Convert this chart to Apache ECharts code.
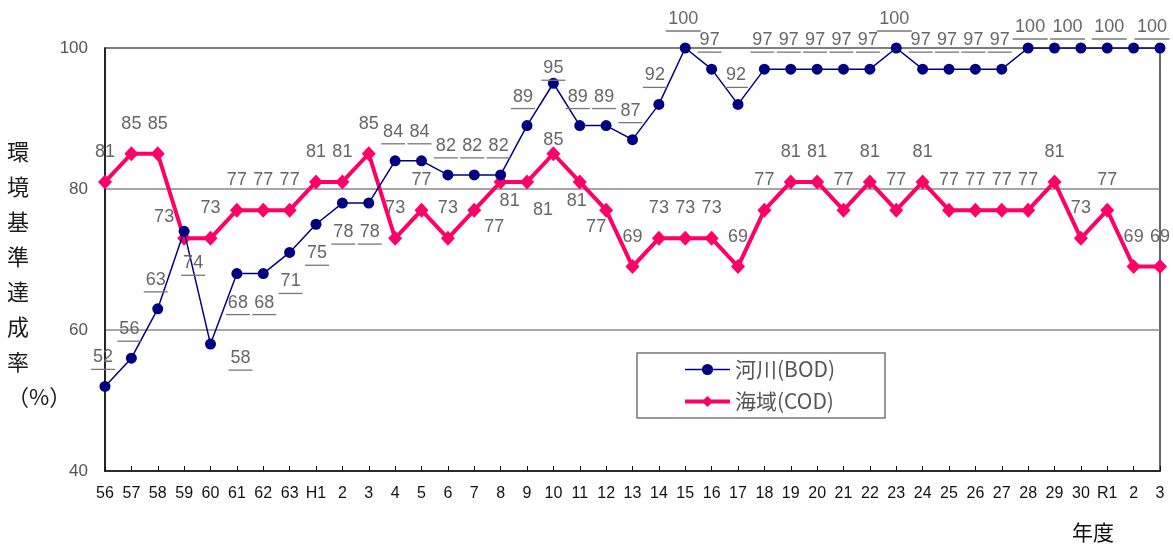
<!DOCTYPE html>
<html>
<head>
<meta charset="utf-8">
<script src="https://cdn.jsdelivr.net/npm/echarts@6/dist/echarts.min.js"></script>
<style>
  html, body { margin: 0; padding: 0; background: #fff; }
  #chart { width: 1173px; height: 544px; }
</style>
</head>
<body>
<div id="chart"></div>
<script>
// 年度 (S56 … R3)
const years = ['56','57','58','59','60','61','62','63','H1','2','3','4','5','6','7','8','9','10','11','12','13','14','15','16','17','18','19','20','21','22','23','24','25','26','27','28','29','30','R1','2','3'];

// 河川（BOD）環境基準達成率 (%)
const riverBOD = [52,56,63,74,58,68,68,71,75,78,78,84,84,82,82,82,89,95,89,89,87,92,100,97,92,97,97,97,97,97,100,97,97,97,97,100,100,100,100,100,100];

// 海域（COD）環境基準達成率 (%)
const seaCOD = [81,85,85,73,73,77,77,77,81,81,85,73,77,73,77,81,81,85,81,77,69,73,73,73,69,77,81,81,77,81,77,81,77,77,77,77,81,73,77,69,69];

const seriesNames = ['河川(BOD)', '海域(COD)'];

// value label placement (offset of the label centre from the point), by index;
// null leaves the point without a value label
const riverLabelShift = {
  default: [-2, -29],
  3: [9, 32], 4: [30, 14], 5: [1, 29], 6: [1, 29], 7: [1, 29], 8: [1, 29], 9: [1, 29], 10: [1, 29],
  16: [-4, -29], 17: [0, -15], 21: [-4, -29],
  35: [2, -21], 36: [13, -21], 37: null, 38: [2, -21], 39: null, 40: [-8, -21]
};
const seaLabelShift = { default: [0, -30], 3: [-20, -21], 14: [20, 17], 15: [9, 19], 16: [16, 28], 17: [0, -14], 18: [-3, 19], 19: [-10, 17] };

const riverColor = '#000080';
const seaColor = '#FF0066';
const labelFont = 'Liberation Sans, Arial, sans-serif';
const cjkFont = '"Noto Sans CJK JP", "Noto Sans CJK SC", sans-serif';

function withLabels(values, shifts, underline) {
  return values.map((v, i) => {
    const s = i in shifts ? shifts[i] : shifts.default;
    if (s === null) return { value: v, label: { show: false } };
    // underlined labels carry an extra thin line below the digits
    const dy = underline ? s[1] + 2.5 : s[1];
    return { value: v, label: { offset: [s[0], dy] } };
  });
}

const chart = echarts.init(document.getElementById('chart'), null, { renderer: 'canvas' });

chart.setOption({
  animation: false,
  backgroundColor: '#fff',
  grid: {
    left: 105, right: 13, top: 48, bottom: 73,
    show: true, borderColor: '#333', borderWidth: 1.5, backgroundColor: 'transparent'
  },
  legend: {
    orient: 'vertical',
    left: 637, top: 353,
    padding: [6, 50, 6, 46],
    itemGap: 11,
    itemWidth: 45, itemHeight: 14,
    borderColor: '#777', borderWidth: 1.5, borderRadius: 0,
    textStyle: { fontFamily: cjkFont, fontSize: 21, color: '#555' },
    data: [
      { name: seriesNames[0], lineStyle: { width: 1.5, color: riverColor } },
      { name: seriesNames[1], lineStyle: { width: 4, color: seaColor } }
    ]
  },
  xAxis: {
    type: 'category',
    data: years,
    boundaryGap: false,
    axisLine: { lineStyle: { color: '#111', width: 1.5 } },
    axisTick: { show: true, inside: true, length: 5, interval: 0, lineStyle: { color: '#111' } },
    axisLabel: { interval: 0, margin: 15, fontFamily: labelFont, fontSize: 16, color: '#111' },
    splitLine: { show: false }
  },
  yAxis: {
    type: 'value',
    min: 40, max: 100, interval: 20,
    axisLine: { show: true, lineStyle: { color: '#111', width: 1.5 } },
    axisTick: { show: false },
    axisLabel: { margin: 17, fontFamily: labelFont, fontSize: 17, color: '#555' },
    splitLine: { show: true, lineStyle: { color: '#888', width: 1.5 } }
  },
  graphic: [
    {
      type: 'text',
      left: 7, top: 134,
      style: {
        text: '環\n境\n基\n準\n達\n成\n率\n（%）',
        font: '22px ' + cjkFont,
        fill: '#1a1a1a',
        lineHeight: 35,
        align: 'center',
        width: 48
      }
    },
    {
      type: 'text',
      left: 1072, top: 522,
      style: { text: '年度', font: '21px ' + cjkFont, fill: '#111' }
    }
  ],
  series: [
    {
      name: seriesNames[0],
      type: 'line',
      z: 3,
      data: withLabels(riverBOD, riverLabelShift, true),
      symbol: 'circle',
      symbolSize: 11,
      lineStyle: { color: riverColor, width: 1.5 },
      itemStyle: { color: riverColor },
      label: {
        show: true,
        position: 'inside',
        formatter: p => {
          const txt = String(p.value);
          return '{t|' + txt + '}\n{' + (txt.length > 2 ? 'u3' : 'u2') + '|}';
        },
        rich: {
          t: { fontFamily: labelFont, fontSize: 18, color: '#666', lineHeight: 19 },
          u2: { width: 24, height: 1.3, lineHeight: 5, backgroundColor: '#777' },
          u3: { width: 35, height: 1.3, lineHeight: 5, backgroundColor: '#777' }
        }
      }
    },
    {
      name: seriesNames[1],
      type: 'line',
      z: 2,
      data: withLabels(seaCOD, seaLabelShift, false),
      symbol: 'diamond',
      symbolSize: [14, 15],
      lineStyle: { color: seaColor, width: 4 },
      itemStyle: { color: seaColor },
      label: {
        show: true,
        position: 'inside',
        fontFamily: labelFont, fontSize: 18, color: '#666'
      }
    }
  ]
});
</script>
</body>
</html>
